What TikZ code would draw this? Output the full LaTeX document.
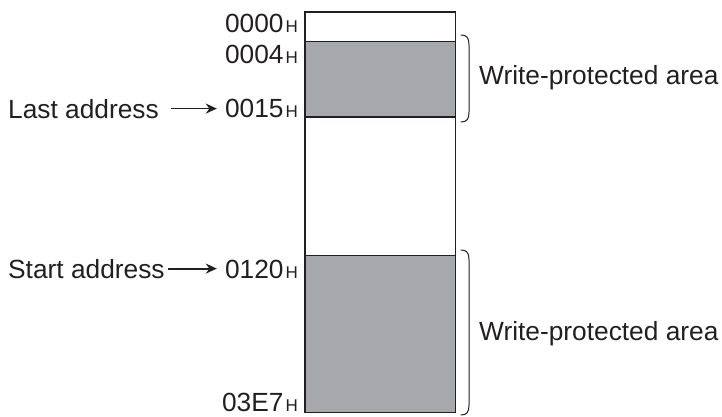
\documentclass[tikz,border=0pt]{standalone}
\usepackage{fontspec}
\setmainfont{Liberation Sans}
\usetikzlibrary{arrows.meta}
\definecolor{ink}{HTML}{231F20}
\definecolor{shade}{HTML}{A7A8AB}
\newcommand\hexaddr[1]{#1\kern2pt{\fontsize{17}{17}\selectfont H}}
\begin{document}
\begin{tikzpicture}[x=1pt,y=-1pt,
  lbl/.style={inner sep=0pt, font=\fontsize{26.3}{30}\selectfont, text=ink},
  memline/.style={draw=ink, line width=1.1pt},
  shaded/.style={memline, fill=shade},
  arr/.style={draw=ink, line width=1.8pt, -{Stealth[length=11pt,width=10pt]}},
  brace/.style={draw=ink, line width=1pt, line cap=round}]
\useasboundingbox (0,0) rectangle (722,417);
% memory column
\coordinate (mtl) at (305,12);
\coordinate (mbr) at (455.7,412.3);
\filldraw[shaded] (305,41.7) rectangle (455.7,117);
\filldraw[shaded] (305,255.7) rectangle (455.7,412.3);
\draw[memline] (mtl) rectangle (mbr);
% address labels
\node[lbl,anchor=base east] (a0) at (298,33) {\hexaddr{0000}};
\node[lbl,anchor=base east] (a4) at (298,64) {\hexaddr{0004}};
\node[lbl,anchor=base east] (a15) at (298,117.5) {\hexaddr{0015}};
\node[lbl,anchor=base east] (a120) at (298,278) {\hexaddr{0120}};
\node[lbl,anchor=base east] (a3e7) at (298,411.5) {\hexaddr{03E7}};
% pointers
\node[lbl,anchor=base west] (last) at (8,118) {Last address};
\node[lbl,anchor=base west] (start) at (8,278) {Start address};
\draw[arr] ([xshift=12pt]last.east) -- ([xshift=-8pt]last.east -| a15.west);
\draw[arr] ([xshift=3pt]start.east) -- ([xshift=-8pt]start.east -| a120.west);
% braces
\draw[brace] (461,35) .. controls (467,35) and (469,38) .. (469,45) -- (469,112) .. controls (469,119) and (467,122) .. (461,122);
\draw[brace] (461,250) .. controls (467,250) and (469,253) .. (469,260) -- (469,405) .. controls (469,412) and (467,415) .. (461,415);
\node[lbl,anchor=base west] (wp1) at (479,85) {Write-protected area};
\node[lbl,anchor=base west] (wp2) at (479,340) {Write-protected area};
\end{tikzpicture}
\end{document}
